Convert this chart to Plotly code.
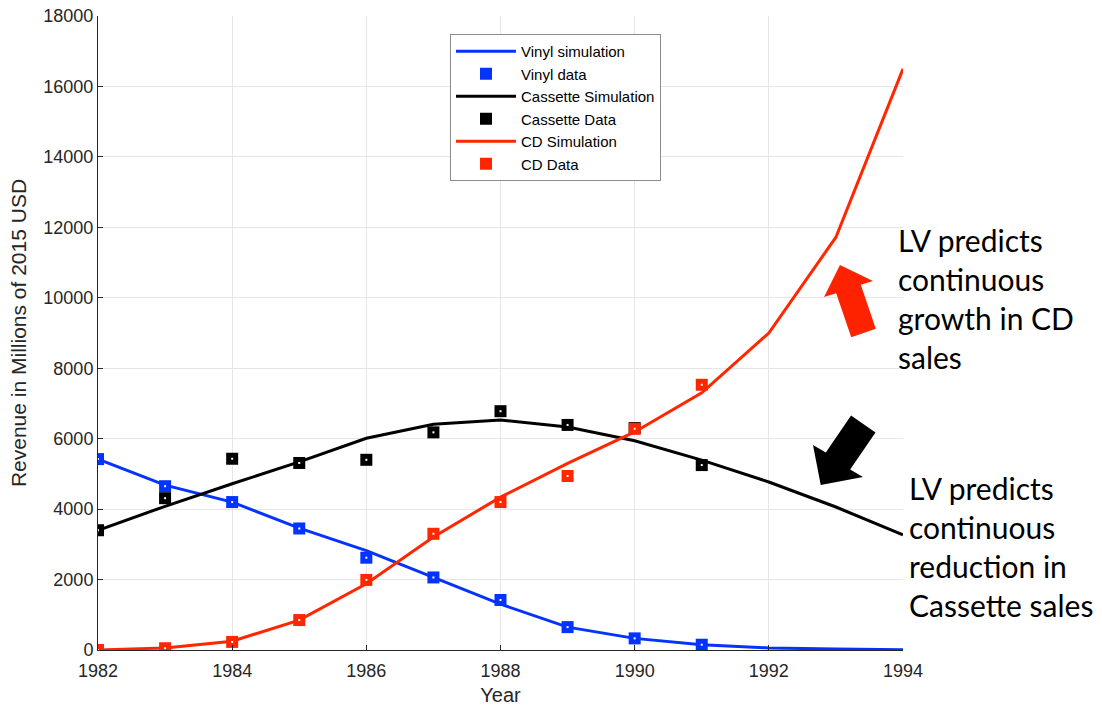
import plotly.graph_objects as go

# ---------------- data ----------------
years_sim = [1982, 1983, 1984, 1985, 1986, 1987, 1988, 1989, 1990, 1991, 1992, 1993, 1994]
years_data = [1982, 1983, 1984, 1985, 1986, 1987, 1988, 1989, 1990, 1991]

vinyl_sim = [5420, 4680, 4200, 3460, 2820, 2060, 1300, 650, 330, 150, 60, 25, 10]
vinyl_data = [5420, 4650, 4200, 3450, 2620, 2060, 1420, 650, 330, 150]

cassette_sim = [3400, 4080, 4720, 5340, 6010, 6410, 6530, 6330, 5940, 5390, 4770, 4060, 3270]
cassette_data = [3400, 4310, 5430, 5310, 5400, 6180, 6780, 6390, 6300, 5250]

cd_sim = [0, 60, 250, 850, 1880, 3210, 4340, 5300, 6190, 7300, 9000, 11720, 16500]
cd_data = [0, 50, 230, 850, 1990, 3300, 4200, 4940, 6280, 7530]

x_ticks = [1982, 1984, 1986, 1988, 1990, 1992, 1994]
y_ticks = [0, 2000, 4000, 6000, 8000, 10000, 12000, 14000, 16000, 18000]

BLUE = "#0433ff"
RED = "#ff2600"
BLACK = "#000000"

W, H = 1102, 706
ML, MR, MT, MB = 98, 199, 16, 56
PW, PH = W - ML - MR, H - MT - MB


def px2paper(px, py):
    return (px - ML) / PW, (H - MB - py) / PH


fig = go.Figure()

series = [
    ("Vinyl simulation", "Vinyl data", vinyl_sim, vinyl_data, BLUE),
    ("Cassette Simulation", "Cassette Data", cassette_sim, cassette_data, BLACK),
    ("CD Simulation", "CD Data", cd_sim, cd_data, RED),
]

for sim_name, data_name, sim, data, col in series:
    fig.add_trace(go.Scatter(x=years_sim, y=sim, mode="lines", name=sim_name,
                             line=dict(color=col, width=3)))
    fig.add_trace(go.Scatter(x=years_data, y=data, mode="markers", name=data_name,
                             marker=dict(symbol="square", size=12, color=col,
                                         line=dict(width=0))))
    fig.add_trace(go.Scatter(x=years_data, y=data, mode="markers", showlegend=False,
                             hoverinfo="skip",
                             marker=dict(symbol="square", size=2, color="white",
                                         line=dict(width=0))))


def arrow_path(points):
    pts = [px2paper(x, y) for x, y in points]
    return "M " + " L ".join(f"{x:.4f},{y:.4f}" for x, y in pts) + " Z"


red_arrow = [(840, 265), (873, 281), (860.8, 284.8), (875.8, 328.8),
             (851.2, 337.2), (836.2, 293.2), (824, 297)]
black_arrow = [(820.7, 485), (863, 477), (850.2, 469.5), (875.5, 432.5),
               (851.1, 415.5), (825.8, 452.5), (813, 445)]

fig.add_shape(type="path", xref="paper", yref="paper", path=arrow_path(red_arrow),
              fillcolor="#ff2200", line=dict(width=0), layer="above")
fig.add_shape(type="path", xref="paper", yref="paper", path=arrow_path(black_arrow),
              fillcolor="#000000", line=dict(width=0), layer="above")

ax1, ay1 = px2paper(896, 298)
ax2, ay2 = px2paper(907, 546)
fig.add_annotation(xref="paper", yref="paper", x=ax1, y=ay1, xanchor="left", yanchor="middle",
                   align="left", showarrow=False,
                   text="LV predicts<br>continuous<br>growth in CD<br>sales",
                   font=dict(family="Lato", size=30, color="black"))
fig.add_annotation(xref="paper", yref="paper", x=ax2, y=ay2, xanchor="left", yanchor="middle",
                   align="left", showarrow=False,
                   text="LV predicts<br>continuous<br>reduction in<br>Cassette sales",
                   font=dict(family="Lato", size=30, color="black"))

axis_common = dict(showgrid=True, gridcolor="#e6e6e6", gridwidth=1,
                   showline=True, linecolor="#262626", linewidth=1,
                   ticks="inside", ticklen=5, tickcolor="#262626",
                   zeroline=False, mirror=False,
                   tickfont=dict(family="Liberation Sans, Arial", size=18, color="#262626"))

fig.update_xaxes(range=[1982, 1994], tickvals=x_ticks, ticktext=[str(v) for v in x_ticks],
                 ticklabelstandoff=4,
                 title=dict(text="Year", font=dict(family="Liberation Sans, Arial", size=20,
                                                   color="#262626"), standoff=8),
                 **axis_common)
fig.update_yaxes(range=[0, 18000], tickvals=y_ticks, ticktext=[str(v) for v in y_ticks],
                 title=dict(text="Revenue in Millions of 2015 USD",
                            font=dict(family="Liberation Sans, Arial", size=21, color="#262626"),
                            standoff=10),
                 **axis_common)

lx, ly = px2paper(450, 34)
fig.update_layout(
    width=W, height=H,
    margin=dict(l=ML, r=MR, t=MT, b=MB, autoexpand=False),
    plot_bgcolor="white", paper_bgcolor="white",
    showlegend=True,
    legend=dict(x=lx, y=ly, xanchor="left", yanchor="top",
                bgcolor="white", bordercolor="#8c8c8c", borderwidth=1,
                font=dict(family="Liberation Sans, Arial", size=15, color="black"),
                tracegroupgap=0, itemwidth=60),
)

fig.write_html("out.html", config={"displayModeBar": False},
               post_script="document.body.style.margin='0px';document.body.style.padding='0px';")
